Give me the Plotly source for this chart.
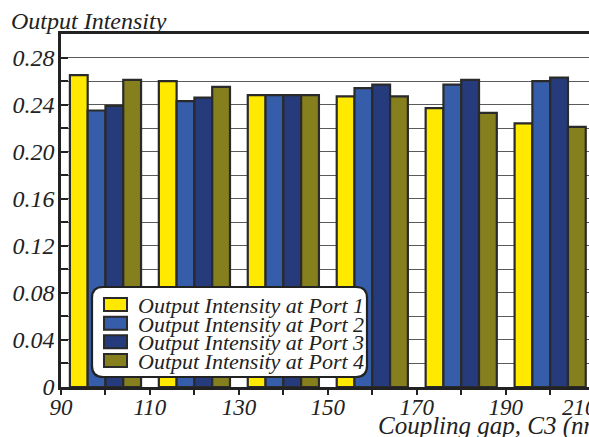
import plotly.graph_objects as go

# ---------------- data ----------------
gaps = [100, 120, 140, 160, 180, 200]          # coupling gap C3 (nm), group centres
port1 = [0.265, 0.260, 0.248, 0.247, 0.237, 0.224]
port2 = [0.235, 0.243, 0.248, 0.254, 0.257, 0.260]
port3 = [0.239, 0.246, 0.248, 0.257, 0.261, 0.263]
port4 = [0.261, 0.255, 0.248, 0.247, 0.233, 0.221]
series_names = ["Output Intensity at Port 1", "Output Intensity at Port 2",
                "Output Intensity at Port 3", "Output Intensity at Port 4"]
x_tick_labels = [90, 110, 130, 150, 170, 190, 210]
y_tick_labels = ["0", "0.04", "0.08", "0.12", "0.16", "0.20", "0.24", "0.28"]
y_title = "Output Intensity"
x_title = "Coupling gap, C3 (nm)"

# ---------------- style ----------------
colors = ["#FFE900", "#365DA9", "#253B7B", "#857F1D"]
edge = "#2A2A2A"
W, H = 589, 437
ML, MR, MT, MB = 61, 0, 34, 50
PW, PH = W - ML - MR, H - MT - MB
X0, XPX = 90, 4.447           # axis start and px per nm
x_end = X0 + PW / XPX
FONT = "Liberation Serif"


def px2paper_x(px):
    return (px - ML) / PW


def px2paper_y(py):
    return (H - MB - py) / PH


series = [port1, port2, port3, port4]
fig = go.Figure()
for name, vals, col in zip(series_names, series, colors):
    fig.add_trace(go.Bar(x=gaps, y=vals, name=name, marker=dict(color=col, line=dict(color=edge, width=2.2)),
                         showlegend=False))

xt_vals = list(range(90, 210, 10))
xt_text = [str(v) if v in x_tick_labels else "" for v in xt_vals]
yt_vals = [round(i * 0.02, 2) for i in range(15)]
yt_text = [y_tick_labels[i // 2] if i % 2 == 0 else "" for i in range(15)]

fig.update_layout(
    width=W, height=H, margin=dict(l=ML, r=MR, t=MT, b=MB),
    paper_bgcolor="white", plot_bgcolor="white",
    font=dict(family=FONT, style="italic", color="#222", size=22),
    barmode="group", bargap=0.2, bargroupgap=0,
    xaxis=dict(range=[X0, x_end], tickmode="array", tickvals=xt_vals, ticktext=xt_text,
               ticks="outside", ticklen=5, tickwidth=1.5, tickcolor="#222",
               showline=True, linewidth=2.5, linecolor="#222", mirror=True,
               showgrid=False, zeroline=False, tickfont=dict(size=23), ticklabelstandoff=-7),
    yaxis=dict(range=[0, 0.30], tickmode="array", tickvals=yt_vals, ticktext=yt_text,
               ticks="inside", ticklen=7, tickwidth=1.5, tickcolor="#222",
               showline=True, linewidth=2.5, linecolor="#222",
               showgrid=True, gridcolor="#5A5A5A", gridwidth=1.3, zeroline=False,
               tickfont=dict(size=24), ticklabelstandoff=-1),
)

# 210 label (partly outside the visible picture)
fig.add_annotation(text=str(x_tick_labels[-1]), xref="paper", yref="paper",
                   x=px2paper_x(579), y=px2paper_y(407), xanchor="center", yanchor="middle",
                   showarrow=False, font=dict(size=23))

# axis titles
fig.add_annotation(text=y_title, xref="paper", yref="paper", x=px2paper_x(9), y=px2paper_y(21),
                   xanchor="left", yanchor="middle", showarrow=False, font=dict(size=24))
fig.add_annotation(text=x_title, xref="paper", yref="paper", x=px2paper_x(376), y=px2paper_y(426),
                   xanchor="left", yanchor="middle", showarrow=False, font=dict(size=25))

# custom legend with rounded frame
bx0, bx1, by0, by1, r = 92, 367, 287, 377, 11


def rr_path(x0, x1, y0, y1, r):
    X = px2paper_x
    Y = px2paper_y
    pts = [f"M{X(x0 + r)},{Y(y0)}", f"L{X(x1 - r)},{Y(y0)}",
           f"Q{X(x1)},{Y(y0)} {X(x1)},{Y(y0 + r)}", f"L{X(x1)},{Y(y1 - r)}",
           f"Q{X(x1)},{Y(y1)} {X(x1 - r)},{Y(y1)}", f"L{X(x0 + r)},{Y(y1)}",
           f"Q{X(x0)},{Y(y1)} {X(x0)},{Y(y1 - r)}", f"L{X(x0)},{Y(y0 + r)}",
           f"Q{X(x0)},{Y(y0)} {X(x0 + r)},{Y(y0)}", "Z"]
    return " ".join(pts)


fig.add_shape(type="path", path=rr_path(bx0, bx1, by0, by1, r), xref="paper", yref="paper",
              fillcolor="white", line=dict(color="#222", width=2.2), layer="above")

row0, row_step = 304.5, 18.65
for i, (name, col) in enumerate(zip(series_names, colors)):
    cy = row0 + i * row_step
    fig.add_shape(type="rect", xref="paper", yref="paper",
                  x0=px2paper_x(104), x1=px2paper_x(127), y0=px2paper_y(cy - 6.5), y1=px2paper_y(cy + 6.5),
                  fillcolor=col, line=dict(color=edge, width=2), layer="above")
    fig.add_annotation(text=name, xref="paper", yref="paper", x=px2paper_x(136), y=px2paper_y(cy + 1),
                       xanchor="left", yanchor="middle", showarrow=False, font=dict(size=22))

fig.write_html("out.html", post_script="document.body.style.margin='0';",
               config={"displayModeBar": False})
